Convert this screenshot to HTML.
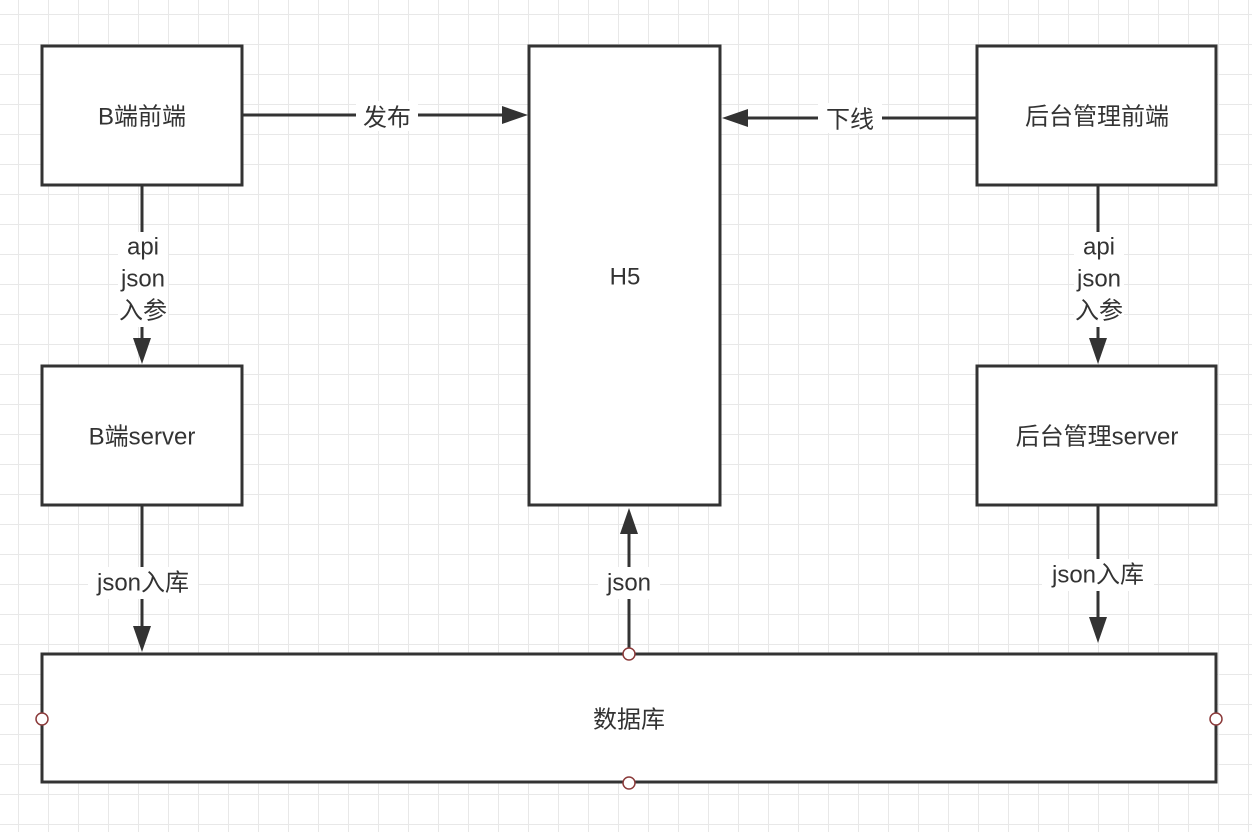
<!DOCTYPE html>
<html><head><meta charset="utf-8"><style>
html,body{margin:0;padding:0;background:#fff;}
svg{display:block;}
text{font-family:"Liberation Sans","Noto Sans CJK SC",sans-serif;font-size:24px;fill:#333;text-anchor:middle;dominant-baseline:central;}
</style></head><body>
<svg width="1252" height="832" xmlns="http://www.w3.org/2000/svg">
<defs>
<pattern id="g" x="18" y="14" width="30" height="30" patternUnits="userSpaceOnUse">
<path d="M0 0H30M0 0V30" stroke="#e8e8e8" stroke-width="2" fill="none"/>
</pattern>
</defs>
<rect width="1252" height="832" fill="url(#g)"/>
<g fill="#fff" stroke="#333" stroke-width="3">
<rect x="42" y="46" width="200" height="139"/>
<rect x="529" y="46" width="191" height="459"/>
<rect x="977" y="46" width="239" height="139"/>
<rect x="42" y="366" width="200" height="139"/>
<rect x="977" y="366" width="239" height="139"/>
<rect x="42" y="654" width="1174" height="128"/>
</g>
<g stroke="#333" stroke-width="3" fill="none">
<path d="M243 115H506"/>
<path d="M976 118H745"/>
<path d="M142 186V342"/>
<path d="M142 506V630"/>
<path d="M629 654V532"/>
<path d="M1098 186V342"/>
<path d="M1098 506V620"/>
</g>
<g fill="#333">
<path d="M528 115L502 106L502 124Z"/>
<path d="M722 118L748 109L748 127Z"/>
<path d="M142 364L133 338L151 338Z"/>
<path d="M142 652L133 626L151 626Z"/>
<path d="M629 508L620 534L638 534Z"/>
<path d="M1098 364L1089 338L1107 338Z"/>
<path d="M1098 643L1089 617L1107 617Z"/>
</g>
<g fill="#fff">
<rect x="356" y="101" width="62" height="30"/>
<rect x="818" y="103" width="64" height="30"/>
<rect x="118" y="232" width="50" height="95"/>
<rect x="1074" y="232" width="50" height="95"/>
<rect x="88" y="567" width="110" height="32"/>
<rect x="598" y="567" width="62" height="32"/>
<rect x="1042" y="559" width="112" height="32"/>
</g>
<text x="142" y="117">B端前端</text>
<text x="625" y="277">H5</text>
<text x="1097" y="117">后台管理前端</text>
<text x="142" y="437">B端server</text>
<text x="1097" y="437">后台管理server</text>
<text x="629" y="720">数据库</text>
<text x="387" y="118">发布</text>
<text x="850" y="120">下线</text>
<text x="143" y="247">api</text>
<text x="143" y="279">json</text>
<text x="143" y="311">入参</text>
<text x="1099" y="247">api</text>
<text x="1099" y="279">json</text>
<text x="1099" y="311">入参</text>
<text x="143" y="583">json入库</text>
<text x="629" y="583">json</text>
<text x="1098" y="575">json入库</text>
<g fill="#fff" stroke="#8b3a3a" stroke-width="1.5">
<circle cx="629" cy="654" r="6"/>
<circle cx="629" cy="783" r="6"/>
<circle cx="42" cy="719" r="6"/>
<circle cx="1216" cy="719" r="6"/>
</g>
</svg>
</body></html>
